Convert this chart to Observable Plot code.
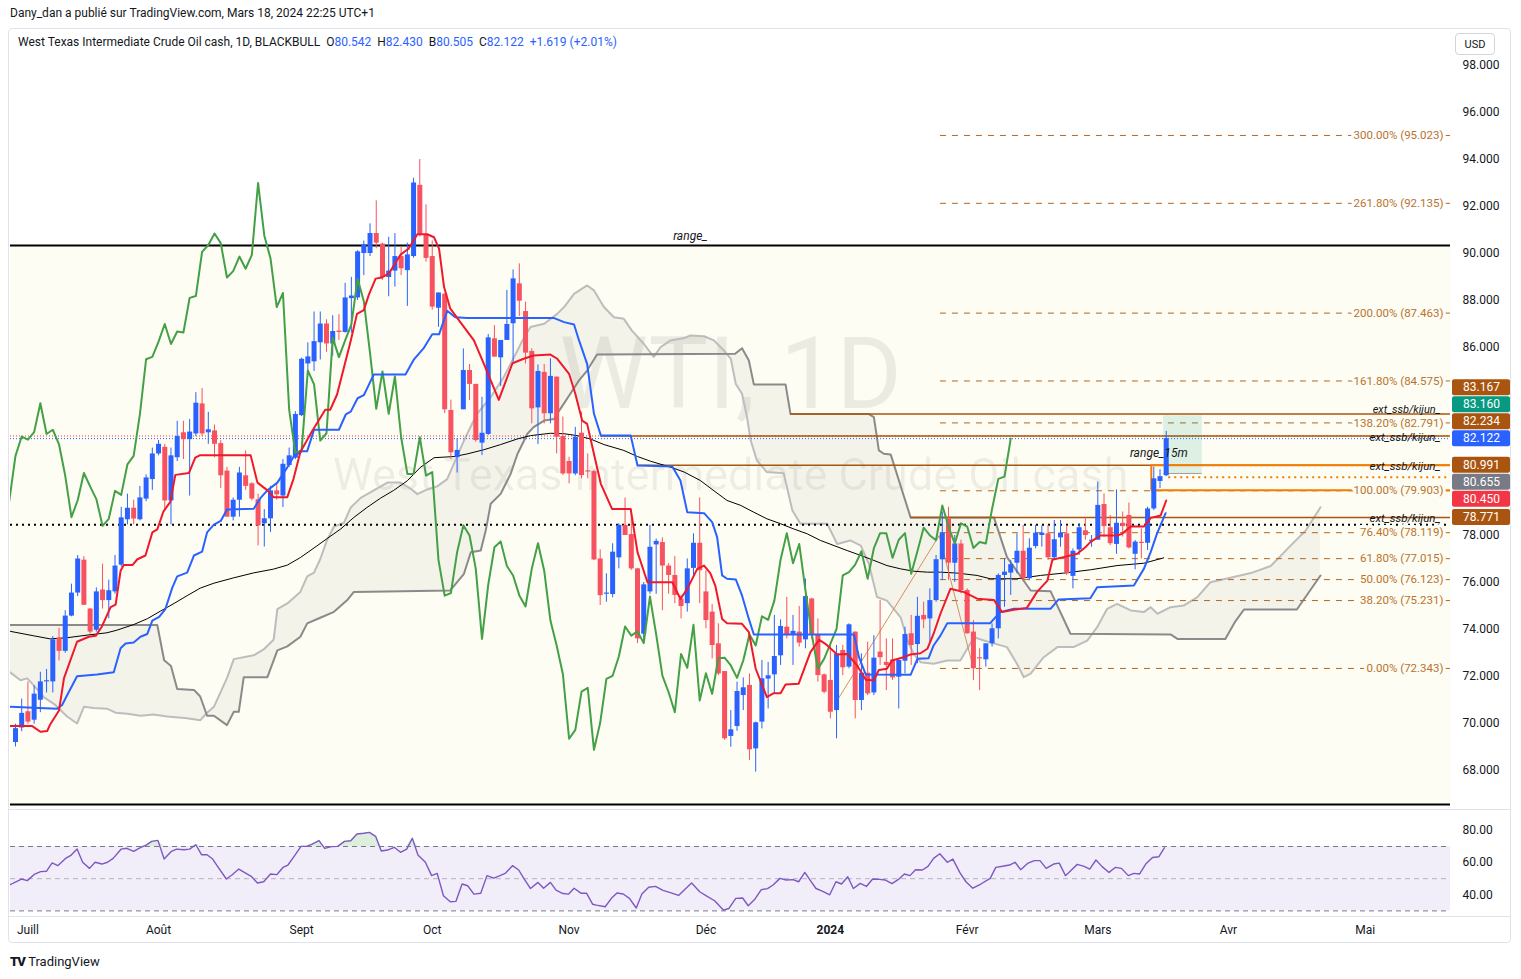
<!DOCTYPE html>
<html><head><meta charset="utf-8">
<script src="https://cdn.jsdelivr.net/npm/d3@7"></script>
<script src="https://cdn.jsdelivr.net/npm/@observablehq/plot@0.6"></script>
<style>
body{margin:0;background:#fff;font-family:Roboto,"Liberation Sans",sans-serif;color:#131722;}
#wrap{position:relative;width:1521px;height:979px;overflow:hidden;background:#fff;}
.abs{position:absolute;white-space:nowrap;}
#frame{left:8px;top:28px;width:1503px;height:915px;border:1px solid #e0e3eb;border-radius:4px;box-sizing:border-box;}
.sep{position:absolute;height:1px;background:#e0e3eb;}
svg{position:absolute;left:0;overflow:visible;}
.blue{color:#2962ff;}
</style></head><body><div id="wrap">
<div class="abs" id="frame"></div>
<div class="abs" style="left:10px;top:6px;font-size:12px;">Dany_dan a publié sur TradingView.com, Mars 18, 2024 22:25 UTC+1</div>
</div>
<script>
// ---------- DATA (daily bars, index 0 = 29 Jun 2023 ... 185 = 18 Mar 2024) ----------
const opens = [69.19,69.81,70.5,70.14,70.99,71.77,71.77,73.64,73.07,74.57,75.55,76.95,74.87,73.97,75.68,75.23,75.6,76.74,78.67,79.16,78.67,79.55,80.38,81.47,81.75,79.47,81.31,82.37,82.08,82.32,83.6,82.37,82.45,81.91,80.74,78.78,79.5,80.54,80.2,79.52,78.5,78.71,79.9,79.68,80.98,81.29,83.1,85.3,85.39,86.2,87.0,86.15,86.7,86.64,88.08,88.11,90.0,90.0,90.85,90.4,88.98,89.25,89.87,89.27,89.87,92.9,90.77,89.87,87.67,88.27,83.32,81.31,83.35,85.02,84.43,81.93,82.3,86.37,85.56,86.3,87.01,88.71,87.53,85.83,83.43,84.94,83.18,84.74,82.21,81.15,80.62,82.35,80.74,80.72,77.0,75.5,75.49,77.05,78.43,78.04,76.58,73.8,75.6,77.6,77.7,76.7,76.3,75.3,75.1,76.6,77.67,75.6,74.74,73.39,72.21,69.45,69.87,71.19,71.62,68.92,70.06,71.89,72.07,72.88,74.1,73.75,73.89,73.56,75.3,73.79,72.07,71.83,70.55,73.11,72.4,73.89,70.98,72.14,71.3,73.04,72.6,72.7,71.97,72.65,73.82,73.36,74.6,74.45,75.23,76.97,78.71,76.82,77.64,75.66,73.89,72.8,72.71,73.39,74.03,76.3,76.4,76.82,77.33,76.16,77.53,78.0,78.07,77.05,77.9,78.07,76.26,77.39,78.2,77.75,77.8,79.32,78.33,77.62,78.52,78.85,77.2,77.7,77.67,79.13,80.3,80.542];
const highs = [69.97,71.04,71.77,71.6,72.18,72.3,73.7,74.05,74.8,75.93,77.15,77.1,74.9,75.77,76.78,76.1,77.15,79.2,79.76,79.5,80.09,80.58,81.72,82.04,81.88,81.72,82.86,82.86,82.94,84.08,84.25,83.24,82.7,82.04,80.9,79.6,80.9,81.6,80.25,79.76,79.1,80.09,80.17,81.23,81.72,83.27,85.55,86.2,87.51,87.51,87.18,87.35,87.4,88.73,88.98,90.12,90.53,91.26,92.24,90.44,90.69,90.85,90.28,90.44,93.2,94.0,92.07,90.53,88.32,88.27,83.76,82.13,85.94,85.28,84.43,83.88,86.55,86.93,86.3,88.43,89.3,89.56,87.93,85.94,85.26,85.28,85.52,84.74,83.04,81.33,82.6,83.25,81.47,80.77,77.39,76.37,77.65,78.5,79.6,79.1,76.6,76.0,78.43,77.85,77.9,76.8,77.1,75.45,77.0,78.07,79.6,76.5,75.06,74.24,72.21,70.55,71.76,71.94,72.11,70.06,72.68,72.6,74.6,74.41,75.37,74.6,74.98,76.15,75.33,74.45,72.11,73.32,73.32,73.32,74.24,73.89,72.96,73.46,73.74,75.23,73.6,73.6,72.7,74.1,74.6,75.37,75.16,75.73,77.15,79.0,79.2,78.0,77.8,75.73,74.38,73.18,73.39,74.24,76.37,77.01,76.94,78.07,78.43,77.86,78.43,78.4,78.43,78.64,78.64,78.43,77.43,78.5,78.75,78.0,80.27,79.77,78.85,79.94,79.0,79.38,77.79,78.28,79.2,80.91,80.8,82.43];
const lows = [69.0,69.65,69.97,69.97,70.46,71.3,71.3,72.66,72.99,74.54,75.4,75.03,73.8,73.89,74.87,74.46,75.5,76.66,78.46,78.46,78.62,79.44,79.92,81.39,79.11,78.46,81.15,81.23,79.68,82.21,82.21,81.88,81.31,80.0,78.78,78.62,78.78,79.92,79.47,77.56,77.51,78.13,79.5,79.19,80.9,81.23,83.06,84.9,84.98,85.47,85.8,85.63,86.3,86.61,86.61,88.0,89.06,89.87,90.2,88.86,88.16,88.57,89.06,87.75,89.8,90.7,89.63,87.59,86.86,83.19,81.23,80.66,83.35,83.74,81.97,81.4,82.26,85.59,84.34,86.3,85.38,87.32,85.3,82.75,81.87,82.75,82.75,81.47,80.55,80.2,80.55,80.41,80.41,76.93,75.02,75.16,75.35,76.58,78.0,76.51,73.4,73.5,75.5,75.5,74.8,75.5,75.1,74.45,74.74,76.23,75.1,74.03,72.75,72.04,69.28,68.99,69.67,70.55,68.43,67.93,69.77,70.62,71.26,72.47,73.6,72.47,73.25,73.18,73.58,71.76,71.26,70.2,69.35,72.04,72.33,70.2,70.55,71.19,71.19,72.47,71.4,71.83,70.62,72.11,72.47,72.54,74.03,73.46,75.16,76.08,76.08,76.0,75.52,73.8,71.83,71.4,72.4,73.25,73.6,74.95,75.45,76.37,76.08,76.08,77.43,77.5,76.94,76.97,77.5,76.3,75.73,77.15,77.8,77.5,77.8,77.93,77.57,77.2,77.93,77.43,76.54,77.0,77.36,79.06,80.0,80.505];
const closes = [69.78,70.43,70.06,71.25,71.77,71.8,73.56,73.07,74.57,75.55,77.0,75.03,73.89,75.6,75.23,75.65,76.7,78.75,79.16,78.7,79.6,80.45,81.47,81.88,79.47,81.39,82.21,82.08,82.4,83.63,82.32,82.5,81.88,80.54,78.78,79.5,80.66,80.09,79.55,78.41,78.71,79.9,79.73,81.03,81.39,83.15,85.5,85.6,86.25,87.0,86.15,86.68,86.64,88.11,88.19,90.07,90.36,90.85,90.44,88.98,89.25,89.87,89.35,89.94,93.0,90.77,89.79,87.72,88.32,83.35,81.52,81.62,85.02,84.43,82.04,82.35,86.41,85.59,86.3,86.98,88.92,87.97,85.76,83.39,84.98,83.18,84.77,82.18,80.62,80.62,82.18,80.55,80.7,76.96,75.44,75.55,77.29,78.43,78.0,76.58,73.6,75.9,77.5,77.75,76.7,76.3,75.45,74.98,76.58,77.67,76.5,74.38,73.32,72.11,69.35,69.73,71.36,71.52,68.88,70.03,71.9,72.03,72.85,74.13,73.74,73.92,73.42,75.4,73.79,72.04,71.33,70.48,72.96,72.37,74.2,70.98,72.14,71.26,72.78,72.8,72.47,71.94,72.68,73.79,73.32,74.56,74.41,75.23,76.97,78.1,76.82,77.64,75.66,73.82,72.33,72.75,73.39,74.03,76.3,76.44,76.76,77.33,76.16,77.46,78.1,78.1,77.05,77.82,78.1,76.37,77.33,78.33,78.0,77.8,79.28,78.38,77.65,78.52,78.38,77.47,77.72,77.66,79.13,80.41,80.503,82.122];

// Ichimoku / MA lines: [bar index, price]
const tenkan = [[-0.8,69.89],[2.7,69.89],[4,69.65],[5.1,69.68],[5.6,69.97],[7,70.55],[7.8,71.93],[9.9,73.48],[11.8,73.69],[12.9,73.73],[13.9,74.13],[15.3,74.95],[16.1,75.06],[16.9,76.5],[17.4,76.74],[18.8,76.74],[19.6,76.99],[20.9,77.15],[22,78.13],[22.8,78.26],[23.8,79.03],[24.9,79.43],[25.7,80.58],[27.9,80.66],[28.9,81.31],[29.7,81.42],[37.8,81.42],[38.9,80.25],[40.5,79.92],[41.5,79.63],[43.7,79.63],[44.7,80.41],[45.8,81.55],[47.7,82.45],[49.8,83.35],[50.6,83.35],[51.7,84],[53.9,86.29],[54.9,87.43],[56,87.59],[56.8,88.24],[57.9,88.93],[58.9,88.98],[60,89.14],[61.9,89.95],[63.2,90.2],[64.6,90.82],[66.2,90.82],[67.3,90.69],[68.1,90.2],[68.9,88.57],[69.9,87.65],[73.7,86.3],[75.3,85.3],[77.7,83.77],[79.9,85.33],[81.7,85.52],[83.3,85.66],[86,85.7],[87.1,85.52],[89,84.88],[90,84.03],[91.1,82.89],[91.9,82.75],[93,81.47],[94.1,80.2],[95.9,79.13],[98.9,79.13],[100,77.29],[101.6,76.01],[105.6,76.01],[106.9,75.3],[108,75.73],[109.6,76.58],[110.7,76.72],[111.7,76.4],[112.5,75.87],[113.6,74.45],[114.4,74.27],[116.8,74.24],[117.9,73.89],[119,72.33],[120.8,71.12],[121.9,71.29],[123,71.29],[123.8,71.66],[125.9,71.69],[127.8,73.04],[129.2,73.56],[130.2,73.39],[132.1,72.94],[133.7,72.96],[135.3,72.47],[136.7,71.86],[138,71.83],[138.8,72.28],[140.1,72.33],[140.9,72.68],[142.8,72.82],[143.9,72.94],[145.5,72.99],[146.6,73.18],[147.6,73.82],[148.7,74.67],[150.3,75.73],[152.5,75.59],[154.6,75.31],[157.3,75.26],[158.6,74.74],[160.5,74.84],[162.6,74.92],[164.2,75.59],[165.9,76.08],[166.7,76.97],[168.5,77.08],[170.7,77.22],[172,77.5],[172.8,77.72],[174.4,78],[177.1,78],[177.9,78.07],[179.3,78.38],[181.4,78.38],[182.5,78.75],[184.1,78.85],[185,79.49]];
const kijun = [[-0.8,70.71],[6.7,70.63],[7.5,70.79],[8.3,71.2],[9.9,72.01],[13.1,72.09],[15.8,72.18],[16.9,73.2],[17.7,73.4],[19,73.45],[20.1,73.69],[21.2,73.81],[22,74.38],[23.1,74.54],[24.1,74.87],[25.2,75.77],[26,76.26],[27.6,76.42],[28.7,77.15],[30,77.31],[30.8,78.13],[31.9,78.46],[33,78.62],[34,79.11],[38.3,79.14],[39.4,79.6],[40.5,79.92],[42.1,80.25],[43.7,80.9],[44.8,81.39],[46.1,81.59],[46.9,81.59],[48,82.5],[52,82.5],[53.1,83.15],[53.9,83.27],[55,83.84],[56,83.97],[56.8,84.41],[57.6,84.85],[62.7,84.85],[64,85.47],[65.6,85.96],[67,86.56],[68.1,86.56],[69.4,87.56],[70.7,87.29],[72.6,87.26],[86.5,87.26],[88.2,87.08],[89.8,86.98],[90.6,86.3],[91.9,85.3],[93,83.18],[94.1,82.26],[98.9,82.26],[100,80.98],[105.6,80.94],[106.9,80.34],[108,78.99],[110.7,78.95],[112,78.57],[112.8,77.93],[113.6,76.3],[114.4,76.16],[115.8,76.13],[116.8,75.45],[117.9,74.45],[118.7,73.79],[134.8,73.79],[135.6,72.82],[136.7,72.08],[143.9,72.07],[145,72.75],[146.8,72.78],[147.6,73.32],[148.7,73.74],[149.8,74.27],[156.7,74.27],[158.3,74.74],[160.5,74.88],[166.4,74.88],[167.7,75.28],[172.8,75.33],[173.9,75.8],[179.8,75.87],[181.4,76.58],[182.5,77.29],[183.5,78.07],[184.9,78.95]];
const senkouA = [[-0.8,72.17],[0.8,71.84],[1.9,71.92],[3,71.6],[4.6,71.11],[6.4,70.79],[8.3,70.3],[9.9,70],[11,70.71],[12.6,70.66],[14.7,70.63],[16.1,70.46],[18,70.41],[20.1,70.33],[22.2,70.38],[24.4,70.3],[27.6,70.22],[29.7,70.14],[30.8,70.46],[31.9,70.71],[34,71.93],[35.1,72.74],[38.3,72.9],[39.9,73.15],[41.5,73.56],[42.1,74.87],[43.7,75.11],[45.8,75.6],[46.9,76.26],[48,76.42],[49,77],[50.1,77.81],[51.2,78.38],[52.8,78.54],[53.9,79.19],[55.5,79.6],[57.6,79.92],[59.8,80.25],[61.9,80.25],[63.5,80],[64.6,79.76],[66.2,79.96],[67.8,80.09],[69.4,80.4],[72.1,82.04],[74.2,83.18],[76.4,83.89],[78.5,84.74],[80.7,85.87],[81.5,86.3],[82.8,86.87],[85,87.01],[87.1,87.43],[88.2,87.72],[89.8,88.28],[91.9,88.64],[93,88.43],[94.6,87.72],[96.2,87.29],[97.8,87.22],[99.1,86.72],[101,86.16],[102.6,85.6],[103.7,86.01],[105.3,86.3],[107.5,86.4],[108.5,86.51],[110.7,86.48],[112.3,86.3],[113.9,85.87],[115,85.52],[115.8,84.45],[116.8,84.03],[117.6,83.04],[118.2,82.04],[119.2,81.19],[120.8,80.7],[123.5,80.65],[124.9,79.06],[126.2,78.5],[130.5,78.5],[132.1,77.64],[134.2,77.79],[135.9,77.57],[137.2,76.79],[138.5,75.38],[140.1,75.23],[142.3,74.52],[143.4,73.53],[144.4,72.96],[145.5,72.61],[147.6,72.54],[149.8,72.68],[151.9,72.68],[154.1,73.67],[155.7,73.53],[159.4,73.25],[161,72.54],[162.1,71.97],[163.2,72.12],[165.3,72.82],[167.5,73.25],[170.1,73.25],[172.3,73.53],[173.9,74.1],[175.5,74.88],[177.1,75.09],[179.3,74.81],[181.4,74.74],[182.5,74.95],[183.6,74.67],[185.7,74.95],[187.8,75.02],[190,75.38],[192.1,76.01],[195.3,76.2],[198.6,76.4],[201.8,76.7],[205,77.57],[207.4,78.2],[209.8,79.2]];
const senkouB = [[-0.8,74.19],[22.8,74.19],[23.9,72.69],[25,72.45],[26,71.47],[28.7,71.43],[29.7,71.15],[30.8,70.33],[31.9,70.33],[34,69.93],[35.1,70.5],[35.9,70.5],[36.7,71.97],[40.5,71.97],[42.1,73.11],[43.7,73.28],[45.8,73.69],[46.9,74.26],[49,74.5],[51.2,74.75],[53.3,75.24],[54.4,75.6],[69.9,75.66],[72.1,76.37],[73.2,77.29],[74.8,77.36],[75.6,78.21],[76.4,79.35],[78,79.77],[79.6,80.62],[80.7,81.47],[82.3,82.33],[83.3,82.61],[85,82.89],[86.6,82.96],[87.6,83.39],[89.2,84.03],[90.6,84.6],[91.9,85.02],[93.5,85.7],[115.7,85.73],[116.8,85.97],[117.9,85.45],[118.7,84.43],[123.8,84.43],[124.6,83.167],[137.2,83.167],[138,83.04],[138.8,81.62],[139.6,81.48],[140.7,81.45],[143.9,78.771],[157.3,78.771],[159.4,77.08],[163.2,75.66],[166.4,75.63],[169.6,73.82],[185.7,73.79],[186.8,73.6],[194.5,73.6],[196,74.3],[197.5,74.85],[206,74.85],[209.8,76.3]];
const ma200 = [[-0.8,73.92],[2.95,73.73],[5.6,73.6],[8.3,73.65],[11.5,73.76],[14.7,73.86],[16.3,73.97],[19,74.21],[21.2,74.46],[23.3,74.78],[25.5,75.11],[27.6,75.44],[29.7,75.76],[31.9,75.97],[35.1,76.2],[38.3,76.41],[41.5,76.57],[43.7,76.74],[45.8,77.06],[48,77.47],[50.1,77.87],[52.3,78.28],[54.4,78.77],[56.5,79.19],[58.7,79.59],[60.8,79.92],[63,80.33],[65.1,80.9],[67.3,81.31],[70.5,81.36],[72.6,81.47],[75.3,81.65],[78,81.87],[80.7,82.11],[82.8,82.25],[86,82.35],[88.2,82.33],[90.3,82.25],[92.4,82.11],[94.6,81.87],[97.8,81.62],[100,81.36],[102.1,81.16],[105.3,80.91],[107.5,80.7],[110.1,80.34],[112.3,79.9],[114.4,79.49],[116.6,79.28],[118.7,78.99],[120.8,78.71],[123,78.5],[125.1,78.28],[127.3,78.07],[129.4,77.79],[131.6,77.57],[133.7,77.36],[135.9,77.15],[138,76.94],[140.1,76.72],[142.3,76.58],[144.4,76.48],[146.6,76.44],[148.7,76.44],[151.4,76.4],[154.6,76.3],[156.7,76.16],[161,76.16],[164.8,76.3],[168.5,76.4],[172.8,76.54],[177.1,76.72],[181.4,76.82],[184.6,77.05]];
const rsi = [[-0.87,46.3],[0.97,49.8],[1.9,48.8],[3.1,52.9],[4.05,54.4],[4.97,54.6],[5.9,59.8],[6.8,58.1],[8.05,62.6],[8.97,64.7],[9.9,68.4],[10.8,60.2],[11.9,56.4],[12.8,60.2],[13.9,59.1],[14.8,60.2],[15.7,62.6],[17,68.4],[17.9,68.9],[19,67],[20,69.1],[21,70.9],[21.9,73.2],[22.9,73.8],[23.9,62.2],[25,66.8],[25.9,68.4],[27.1,68],[28,68.4],[29,71.1],[29.9,64.9],[30.8,64.9],[31.7,62.2],[32.6,57],[33.9,49.8],[34.8,52.3],[35.9,56],[37,53.5],[37.9,51.5],[38.9,47.3],[39.9,48.1],[41,52.9],[42,52.5],[43,57],[43.8,58.5],[44.8,63.9],[45.9,70.1],[46.8,70.1],[47.7,71.5],[48.8,73.6],[49.7,68.8],[50.8,69.9],[51.8,70.1],[52.9,73.2],[53.9,73.6],[54.9,77.8],[56,78.2],[56.9,78.8],[57.9,76.3],[58.8,67.2],[59.8,67.8],[60.9,69.5],[61.9,66.4],[62.9,68.4],[63.8,75.1],[64.7,64.7],[65.9,60.2],[66.9,51.9],[67.8,53.3],[68.8,39.4],[69.9,35.7],[70.8,35.9],[71.8,46.7],[72.7,45.6],[73.7,40.4],[74.8,41],[75.8,51.9],[76.9,50.4],[77.9,51.9],[78.8,53.5],[79.9,58.1],[80.9,55.4],[81.8,49.8],[82.8,43.9],[84,47.7],[84.9,44.1],[86,47.7],[86.9,42.9],[88,40.8],[88.9,40.4],[89.8,44.1],[90.9,41],[91.8,41],[92.8,34.1],[93.4,33.6],[94.8,32.6],[95.8,37.8],[96.7,41.1],[97.7,40.5],[98.7,37.8],[99.8,31.8],[100.7,40.5],[101.8,44.7],[102.9,45.2],[104.1,42.7],[105.4,41.2],[106.6,39.6],[107.8,44.1],[108.7,47.3],[110,41.9],[111.2,39],[112.4,36.3],[113.8,30.5],[114.7,31.5],[115.8,37.8],[116.9,38],[117.8,33.2],[118.9,37.4],[119.9,43.2],[120.9,43.8],[121.8,46.1],[122.9,50.2],[123.9,49.2],[125,49.4],[125.9,48.1],[126.9,53.9],[127.8,48.8],[128.7,43.9],[129.7,42.3],[130.9,40],[131.9,48.1],[132.8,46.7],[133.8,51.2],[134.7,43.9],[135.8,47.1],[136.8,45.2],[137.8,49.8],[138.9,49.6],[139.8,49.2],[140.9,46.9],[141.9,49.4],[142.9,52.9],[143.8,51.9],[144.7,55.6],[145.8,55.4],[146.7,57.7],[147.6,62.6],[148.6,65.5],[149.8,60.2],[150.7,62.2],[151.8,53.9],[152.8,48.1],[153.9,44.1],[155.2,46.7],[156.7,50.2],[157.6,57],[158.7,57.7],[159.8,58.5],[160.7,60.2],[161.6,55.6],[162.7,59.5],[163.8,61.2],[164.7,61.2],[165.7,56.4],[166.9,59.1],[167.8,59.7],[168.8,51.9],[169.8,55.6],[170.7,58.9],[171.8,57.7],[172.7,56],[173.7,61.6],[174.7,57.5],[175.8,53.9],[176.8,57],[177.8,56.4],[178.9,51.9],[179.8,53.3],[180.7,52.9],[181.7,59.1],[182.8,63.2],[183.8,63.6],[184.7,69.2]];

// Fibonacci extension levels
const fibPct = ["300.00%","261.80%","200.00%","161.80%","138.20%","100.00%","76.40%","61.80%","50.00%","38.20%","0.00%"];
const fibVal = [95.023,92.135,87.463,84.575,82.791,79.903,78.119,77.015,76.123,75.231,72.343];
const fibPoints = [[131.8,70.85],[148.5,78.0],[154,72.343]];
const fibStart = 148.7;
// Horizontal drawings
const extVal = [83.167,82.234,80.991,78.771];
const extFrom = [124.6,94.1,100,143.9];
const rangeHigh = 90.34, rangeLow = 66.55, supportLevel = 78.46;
const range15 = {from: 182.6, top: 80.991, bottom: 79.93, mid: 80.48, midFrom: 185.4};
const longBox = {from: 184.6, to: 190.8, top: 83.1, bottom: 80.64};
// Right-scale price tags
const tagVal = [83.167,83.160,82.234,82.122,80.991,80.655,80.450,78.771];
const tagCol = ["#a9550f","#089981","#a9550f","#2962ff","#a9550f","#787b86","#f23645","#a9550f"];
// Time axis
const monthIdx = [2,23,46,67,89,111,131,153,174,195,217];
const monthLab = ["Juill","Août","Sept","Oct","Nov","Déc","2024","Févr","Mars","Avr","Mai"];
const yTicks = [68,70,72,74,76,78,80,82,84,86,88,90,92,94,96,98];
const rsiTicks = [40,60,80];

// ---------- LAYOUT ----------
const W = 1521, ML = 10, MR = 71;
const X0 = -0.8, X1 = 230.7;
const pxPerBar = (W - ML - MR) / (X1 - X0);
const px = p => p / pxPerBar;
const FONT = 'Roboto, "Liberation Sans", sans-serif';
const UP = "#2962ff", DOWN = "#f7525f", CREAM = "#fefdf3", BROWN = "#a9550f", FIBC = "#b4661e", ORANGE = "#f57c00";

const candles = opens.map((o, i) => ({i, o, h: highs[i], l: lows[i], c: closes[i]}));
const colorOf = d => d.c >= d.o ? UP : DOWN;
const chikou = closes.map((c, i) => [i - 25, c]);
const nC = Math.max(senkouA.length, senkouB.length);
const cloud = d3.range(nC).map(k => {
  const a = senkouA[Math.min(k, senkouA.length - 1)], b = senkouB[Math.min(k, senkouB.length - 1)];
  return {xa: a[0], ya: a[1], xb: b[0], yb: b[1]};
});
const fibs = fibVal.map((v, k) => ({v, p: fibPct[k]}));
const ext = extVal.map((v, k) => ({v, from: extFrom[k]}));

// price tags pushed apart from the current price
const tagStep = 17 / 23.5, tagBox = 16 / 23.5;
const tags = tagVal.map((v, k) => ({v, col: tagCol[k]})).sort((a, b) => b.v - a.v);
const cur = tags.findIndex(t => t.v === closes[closes.length - 1]);
tags.forEach(t => t.pos = t.v);
for (let k = cur - 1; k >= 0; k--) tags[k].pos = Math.max(tags[k].v, tags[k + 1].pos + tagStep);
for (let k = cur + 1; k < tags.length; k++) tags[k].pos = Math.min(tags[k].v, tags[k - 1].pos - tagStep);
// axis labels hidden where a tag sits on them
const shownTicks = yTicks.filter(t => tags.every(g => Math.abs(g.pos - t) > tagStep * 0.95));

const main = Plot.plot({
  width: W, height: 780, marginLeft: ML, marginRight: MR, marginTop: 0, marginBottom: 0,
  x: {domain: [X0, X1], axis: null},
  y: {domain: [66.383, 99.574]},
  color: {type: "identity"},
  style: {fontFamily: FONT, fontSize: "12px", color: "#131722", background: "transparent", overflow: "visible"},
  marks: [
    Plot.rect([0], {x1: () => X0, x2: () => X1, y1: () => rangeLow, y2: () => rangeHigh, fill: CREAM}),
    Plot.text(["WTI, 1D"], {frameAnchor: "middle", text: d => d, fontSize: 100, dy: -43, fill: "#000", fillOpacity: 0.07}),
    Plot.text(["West Texas Intermediate Crude Oil cash"], {frameAnchor: "middle", text: d => d, fontSize: 45, dy: 57, fill: "#000", fillOpacity: 0.07}),
    Plot.area(cloud, {x1: "xb", y1: "yb", x2: "xa", y2: "ya", fill: "#7a7a7a", fillOpacity: 0.08, clip: true}),
    Plot.line(senkouA, {stroke: "#bdbdbd", strokeWidth: 2, clip: true}),
    Plot.line(senkouB, {stroke: "#8a8a8a", strokeWidth: 2, clip: true}),
    Plot.ruleY([rangeHigh, rangeLow], {stroke: "#000", strokeWidth: 2}),
    Plot.ruleY([supportLevel], {stroke: "#000", strokeWidth: 2, strokeDasharray: "2,4"}),
    Plot.ruleY([82.234], {stroke: "#f23645", strokeWidth: 1, strokeDasharray: "1,2"}),
    Plot.ruleY([closes[closes.length - 1]], {stroke: "#2962ff", strokeWidth: 1, strokeDasharray: "1,2"}),
    Plot.ruleY(fibs, {y: "v", x1: () => fibStart, x2: () => X1, stroke: FIBC, strokeWidth: 1, strokeDasharray: "6,6"}),
    Plot.line(fibPoints, {stroke: "#d39060", strokeWidth: 1}),
    Plot.ruleY(ext, {y: "v", x1: "from", x2: () => X1, stroke: BROWN, strokeWidth: 1.5}),
    Plot.rect([longBox], {x1: "from", x2: "to", y1: "bottom", y2: "top", fill: "#089981", fillOpacity: 0.13}),
    Plot.ruleY([longBox], {y: "bottom", x1: "from", x2: "to", stroke: "#9e9e9e", strokeWidth: 1}),
    Plot.ruleY([range15.top, range15.bottom], {x1: () => range15.from, x2: () => X1, stroke: ORANGE, strokeWidth: 2}),
    Plot.ruleX([range15.from], {y1: () => range15.bottom, y2: () => range15.top, stroke: ORANGE, strokeWidth: 2}),
    Plot.ruleY([range15.mid], {x1: () => range15.midFrom, x2: () => X1, stroke: ORANGE, strokeWidth: 2, strokeDasharray: "2,4"}),
    Plot.line(ma200, {stroke: "#000", strokeWidth: 1, clip: true}),
    Plot.ruleX(candles, {x: "i", y1: "l", y2: "h", stroke: colorOf, strokeWidth: 1}),
    Plot.ruleX(candles, {x: "i", y1: d => Math.min(d.o, d.c), y2: d => Math.max(d.o, d.c, Math.min(d.o, d.c) + 0.05), stroke: colorOf, strokeWidth: 5}),
    Plot.line(chikou, {stroke: "#43a047", strokeWidth: 2, clip: true}),
    Plot.line(kijun, {stroke: "#2962ff", strokeWidth: 2, clip: true}),
    Plot.line(tenkan, {stroke: "#f0182b", strokeWidth: 2, clip: true}),
    Plot.text(fibs, {x: () => X1 - px(7), y: "v", text: d => `${d.p} (${d.v.toFixed(3)})`, textAnchor: "end", fill: "#b8732f", stroke: d => d.v > rangeHigh ? "#ffffff" : CREAM, strokeWidth: 6, fontSize: 11.5}),
    Plot.text(ext.slice(0, 1), {x: () => X1 - px(10), y: "v", text: () => "ext_ssb/kijun_", textAnchor: "end", fontStyle: "italic", fill: "#131722", dy: -5, fontSize: 11}),
    Plot.text(ext.slice(1), {x: () => X1 - px(10), y: "v", text: () => "ext_ssb/kijun_", textAnchor: "end", fontStyle: "italic", fill: "#131722", dy: 1, fontSize: 11.5}),
    Plot.text(["range_"], {x: () => 108.5, y: () => rangeHigh, text: d => d, dy: -9, fontStyle: "italic", fill: "#131722"}),
    Plot.text(["range_15m"], {x: () => 183.8, y: () => range15.top, text: d => d, dy: -12, fontStyle: "italic", fill: "#131722"}),
    Plot.axisY({ticks: shownTicks, anchor: "right", tickSize: 0, tickPadding: 12, tickFormat: d => d.toFixed(3), label: null, fill: "#131722"}),
    Plot.rect(tags, {x1: () => X1 + px(2), x2: () => X1 + px(60), y1: d => d.pos - tagBox / 2, y2: d => d.pos + tagBox / 2, fill: "col", rx: 2}),
    Plot.text(tags, {x: () => X1 + px(31), y: "pos", text: d => d.v.toFixed(3), fill: "#ffffff", fontSize: 12})
  ]
});
main.style.top = "28px";

const rsiPlot = Plot.plot({
  width: W, height: 134, marginLeft: ML, marginRight: MR, marginTop: 0, marginBottom: 28,
  x: {domain: [X0, X1], axis: null},
  y: {domain: [26.52, 92.36]},
  color: {type: "identity"},
  style: {fontFamily: FONT, fontSize: "12px", color: "#131722", background: "transparent", overflow: "visible"},
  marks: [
    Plot.rect([0], {x1: () => X0, x2: () => X1, y1: () => 30, y2: () => 70, fill: "#7e57c2", fillOpacity: 0.1}),
    Plot.ruleY([70, 30], {stroke: "#787b86", strokeDasharray: "5,4"}),
    Plot.ruleY([50], {stroke: "#787b86", strokeOpacity: 0.5, strokeDasharray: "5,4"}),
    Plot.areaY(rsi, {x: d => d[0], y1: () => 70, y2: d => Math.max(70, d[1]), fill: "#4caf50", fillOpacity: 0.2, clip: true}),
    Plot.line(rsi, {stroke: "#7e57c2", strokeWidth: 1.4, clip: true}),
    Plot.axisY({ticks: rsiTicks, anchor: "right", tickSize: 0, tickPadding: 12, tickFormat: d => d.toFixed(2), label: null, fill: "#131722"}),
    Plot.text(monthIdx.map((i, k) => ({i, t: monthLab[k]})).filter(d => d.t !== "2024"), {x: "i", frameAnchor: "bottom", dy: 17, text: "t", fill: "#131722"}),
    Plot.text(monthIdx.map((i, k) => ({i, t: monthLab[k]})).filter(d => d.t === "2024"), {x: "i", frameAnchor: "bottom", dy: 17, text: "t", fill: "#131722", fontWeight: "bold"})
  ]
});
rsiPlot.style.top = "810px";

const wrap = document.getElementById("wrap");
wrap.appendChild(main);
wrap.appendChild(rsiPlot);

function addDiv(html, css, cls) {
  const d = document.createElement("div");
  d.className = cls || "abs";
  d.style.cssText = css;
  d.innerHTML = html;
  wrap.appendChild(d);
  return d;
}
addDiv("", "left:9px;top:809px;width:1502px;", "sep");
addDiv("", "left:9px;top:916px;width:1502px;", "sep");
addDiv('West Texas Intermediate Crude Oil cash, 1D, BLACKBULL&nbsp;&nbsp;O<span class="blue">80.542</span>&nbsp;&nbsp;H<span class="blue">82.430</span>&nbsp;&nbsp;B<span class="blue">80.505</span>&nbsp;&nbsp;C<span class="blue">82.122</span>&nbsp;&nbsp;<span class="blue">+1.619 (+2.01%)</span>',
  "left:18px;top:35px;font-size:12px;");
addDiv("USD", "left:1455px;top:33px;width:40px;height:22px;line-height:22px;text-align:center;font-size:11px;border:1px solid #d1d4dc;border-radius:4px;box-sizing:border-box;background:#fff;");
addDiv('<span style="font-weight:900;font-size:13px;letter-spacing:-1px;">TV</span>&nbsp;TradingView', "left:10px;top:954px;font-size:13px;color:#131722;");
</script>
</body></html>
